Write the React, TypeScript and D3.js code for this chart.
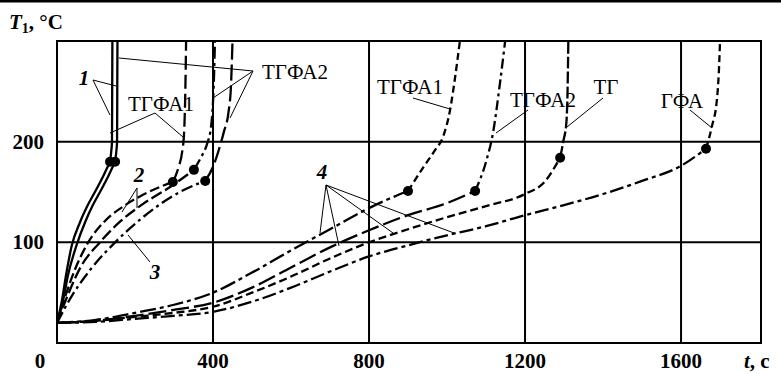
import React from "react";
import * as d3 from "d3";

// ---- axis ticks ----
const xTicks = [400, 800, 1200, 1600];
const yTicks = [100, 200];
const xMax = 1805;
const yMax = 300;

// ---- mode 1 (double solid line) ----
const m1a_pre = [[0, 20], [13, 43], [23, 67], [38, 97], [59, 120], [79, 137], [100, 152], [120, 167], [136, 180]];
const m1a_post = [[136, 180], [139, 190], [141, 200], [141.5, 250], [142, 300]];
const m1b_pre = [[0, 20], [16, 43], [28, 67], [50, 97], [72, 120], [92, 137], [113, 152], [133, 167], [149, 180]];
const m1b_post = [[149, 180], [152, 190], [154, 200], [154.5, 250], [155, 300]];

// ---- mode 2 ----
const m2a_pre = [[0, 20], [20, 45], [45, 72], [80, 100], [125, 122], [175, 137], [235, 150], [297, 160]];
const m2a_post = [[297, 160], [312, 175], [321, 190], [326, 210], [329, 250], [331, 300]];
const m2b_pre = [[0, 20], [25, 45], [60, 75], [110, 100], [160, 120], [220, 138], [290, 155], [351, 172]];
const m2b_post = [[351, 172], [370, 185], [385, 198], [395, 215], [400, 240], [403, 270], [405, 300]];

// ---- mode 3 ----
const m3_pre = [[0, 20], [40, 48], [90, 75], [149, 100], [205, 120], [265, 138], [325, 152], [380, 161]];
const m3_post = [[380, 161], [400, 175], [415, 192], [428, 210], [440, 230], [446, 255], [450, 300]];

// ---- mode 4 ----
const m4_tgfa1_pre = [[0, 20], [100, 23], [200, 30], [300, 38], [400, 50], [500, 70], [600, 92], [700, 113], [800, 134], [850, 143], [900, 151]];
const m4_tgfa1_post = [[900, 151], [940, 175], [970, 192], [990, 205], [1008, 232], [1020, 262], [1033, 300]];
const m4_tgfa2_pre = [[0, 20], [100, 22], [200, 27], [300, 33], [400, 40], [500, 55], [600, 75], [700, 95], [800, 112], [900, 127], [1000, 139], [1072, 151]];
const m4_tgfa2_post = [[1072, 151], [1100, 180], [1118, 209], [1136, 259], [1149, 300]];
const m4_tg_pre = [[0, 20], [100, 22], [200, 26], [300, 30], [400, 36], [500, 50], [600, 66], [700, 84], [800, 100], [900, 113], [1000, 125], [1100, 136], [1200, 148], [1250, 160], [1290, 184]];
const m4_tg_post = [[1290, 184], [1298, 200], [1306, 219], [1309, 250], [1311, 300]];
const m4_gfa_pre = [[0, 20], [100, 21], [200, 24], [300, 27], [400, 31], [500, 41], [600, 55], [700, 71], [800, 86], [900, 97], [1000, 107], [1100, 116], [1200, 127], [1300, 137], [1400, 148], [1500, 161], [1600, 176], [1664, 193]];
const m4_gfa_post = [[1664, 193], [1679, 215], [1692, 242], [1697, 270], [1700, 300]];

type Seg = { pts: number[][]; dash: string };
const segments: Seg[] = [
  { pts: m1a_pre, dash: "" }, { pts: m1a_post, dash: "" },
  { pts: m1b_pre, dash: "" }, { pts: m1b_post, dash: "" },
  { pts: m2a_pre, dash: "10,4" }, { pts: m2a_post, dash: "14,5" },
  { pts: m2b_pre, dash: "12,4" }, { pts: m2b_post, dash: "12,4,3,4" },
  { pts: m3_pre, dash: "12,4,3,4" }, { pts: m3_post, dash: "16,5" },
  { pts: m4_tgfa1_pre, dash: "16,4,4,4" }, { pts: m4_tgfa1_post, dash: "7,4" },
  { pts: m4_tgfa2_pre, dash: "18,5" }, { pts: m4_tgfa2_post, dash: "10,4,3,4" },
  { pts: m4_tg_pre, dash: "8,4" }, { pts: m4_tg_post, dash: "12,3" },
  { pts: m4_gfa_pre, dash: "14,4,4,4" }, { pts: m4_gfa_post, dash: "7,4" },
];
const dots = [m1a_post[0], m1b_post[0], m2a_post[0], m2b_post[0], m3_post[0], m4_tgfa1_post[0], m4_tgfa2_post[0], m4_tg_post[0], m4_gfa_post[0]];

// ---- labels & leaders (pixel annotations) ----
const labels = [
  { text: "ТГФА1", x: 161, y: 111, italic: false },
  { text: "ТГФА2", x: 295, y: 79, italic: false },
  { text: "ТГФА1", x: 410, y: 94, italic: false },
  { text: "ТГФА2", x: 543, y: 107, italic: false },
  { text: "ТГ", x: 606, y: 94, italic: false },
  { text: "ГФА", x: 682, y: 108, italic: false },
  { text: "1", x: 84, y: 85, italic: true },
  { text: "2", x: 139, y: 182, italic: true },
  { text: "3", x: 155, y: 279, italic: true },
  { text: "4", x: 322, y: 179, italic: true },
];
const leaders = [
  [93, 80, 110, 115], [93, 80, 116, 86],
  [155, 113, 110, 133], [155, 113, 183, 137],
  [253, 71, 119, 58], [253, 71, 213, 98], [253, 71, 230, 118],
  [413, 98, 450, 109],
  [528, 110, 496, 133],
  [603, 98, 567, 127],
  [690, 110, 712, 128],
  [137, 188, 122, 212], [137, 188, 137, 208],
  [150, 262, 128, 235],
  [326, 185, 320, 233], [326, 185, 339, 246], [326, 185, 393, 233], [326, 185, 454, 233],
];

export default function App() {
  const W = 781, H = 374;
  const x = d3.scaleLinear().domain([0, xMax]).range([57, 761]);
  const y = d3.scaleLinear().domain([0, yMax]).range([343, 41]);
  const line = d3.line<number[]>().x(d => x(d[0])).y(d => y(d[1])).curve(d3.curveMonotoneX);
  const font = "'Liberation Serif', 'Times New Roman', serif";
  const fs = 21;
  const xlY = 368;
  return (
    <div style={{ position: "absolute", left: 0, top: 0 }}>
      <svg width={W} height={H} style={{ display: "block", background: "#fff" }} fontFamily={font}>
        <line x1={0} x2={W} y1={1.2} y2={1.2} stroke="#000" strokeWidth={2.5} />
        {/* grid */}
        {xTicks.map(t => (
          <line key={"gx" + t} x1={x(t)} x2={x(t)} y1={y(yMax)} y2={y(0)} stroke="#000" strokeWidth={2} />
        ))}
        {yTicks.map(t => (
          <line key={"gy" + t} x1={x(0)} x2={x(xMax)} y1={y(t)} y2={y(t)} stroke="#000" strokeWidth={2} />
        ))}
        <rect x={x(0)} y={y(yMax)} width={x(xMax) - x(0)} height={y(0) - y(yMax)} fill="none" stroke="#000" strokeWidth={2} />
        {/* curves */}
        {segments.map((s, i) => (
          <path key={"s" + i} d={line(s.pts) || ""} fill="none" stroke="#000" strokeWidth={2.3} strokeDasharray={s.dash || undefined} />
        ))}
        {dots.map((d, i) => (
          <circle key={"d" + i} cx={x(d[0])} cy={y(d[1])} r={5} fill="#000" />
        ))}
        {/* leaders */}
        {leaders.map((l, i) => (
          <line key={"l" + i} x1={l[0]} y1={l[1]} x2={l[2]} y2={l[3]} stroke="#000" strokeWidth={1} />
        ))}
        {labels.map((l, i) => (
          <text key={"t" + i} x={l.x} y={l.y} textAnchor="middle" fontSize={fs} fontStyle={l.italic ? "italic" : "normal"} fontWeight={l.italic ? "bold" : "normal"} fill="#000">{l.text}</text>
        ))}
        {/* tick labels */}
        {yTicks.map(t => (
          <text key={"yl" + t} x={44} y={y(t) + 7} textAnchor="end" fontSize={fs} fontWeight="bold">{t}</text>
        ))}
        <text x={40} y={xlY} textAnchor="middle" fontSize={fs} fontWeight="bold">0</text>
        {xTicks.map(t => (
          <text key={"xl" + t} x={x(t)} y={xlY} textAnchor="middle" fontSize={fs} fontWeight="bold">{t}</text>
        ))}
        <text x={744} y={xlY} fontSize={fs} fontWeight="bold">
          <tspan fontStyle="italic">t</tspan>, c
        </text>
        <text x={9} y={29} fontSize={fs} fontWeight="bold">
          <tspan fontStyle="italic">T</tspan>
          <tspan fontSize={14} dy={4}>1</tspan>
          <tspan dy={-4}>, °C</tspan>
        </text>
      </svg>
    </div>
  );
}
